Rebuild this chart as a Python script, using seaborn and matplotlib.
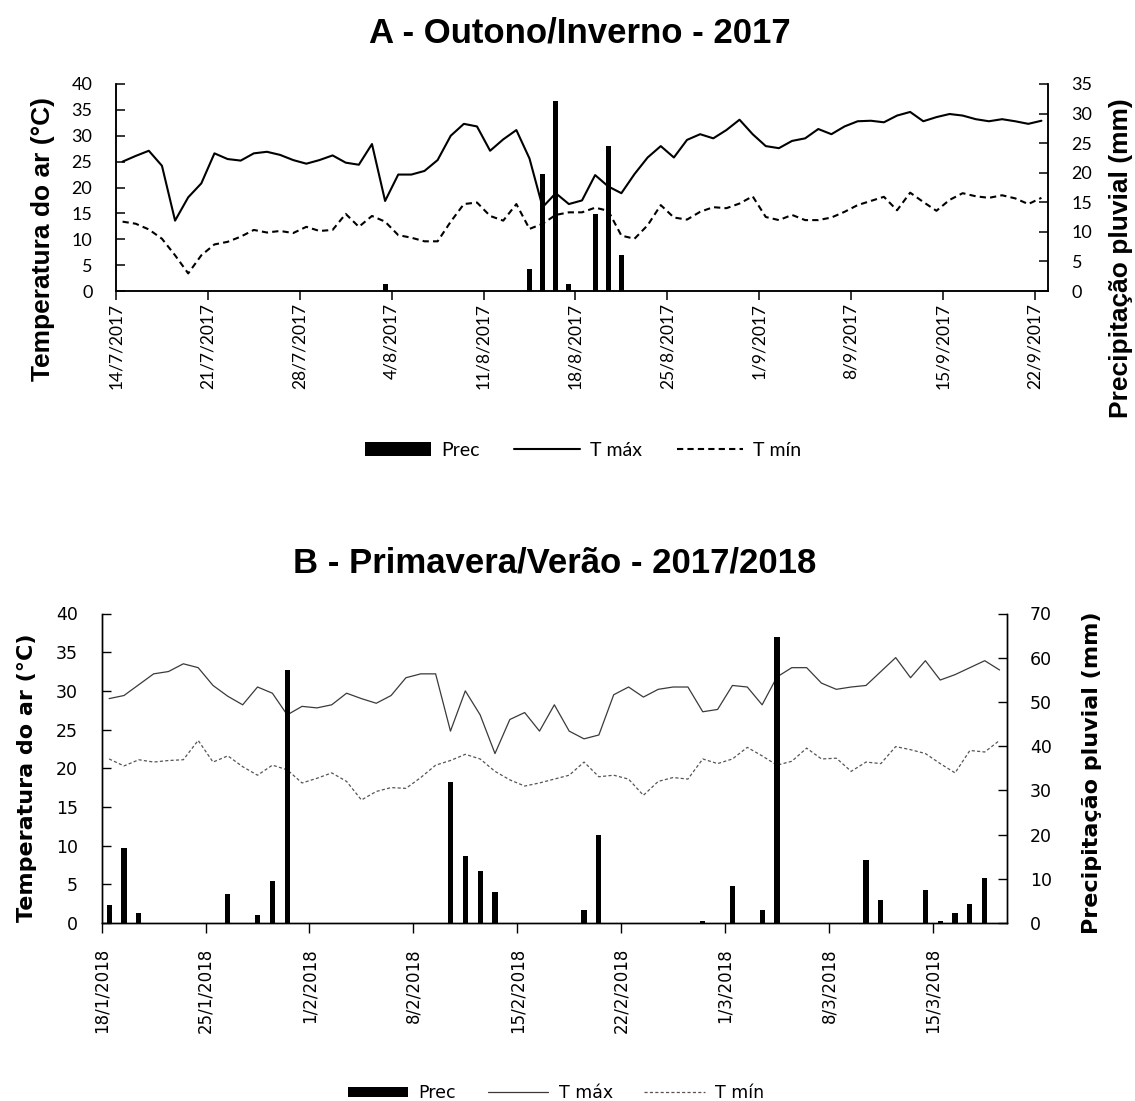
import numpy as np
import pandas as pd
import matplotlib
matplotlib.use('Agg')
import matplotlib.pyplot as plt
import seaborn as sns
from matplotlib.patches import Patch
from matplotlib.lines import Line2D

# --- Panel A: Outono/Inverno 2017, one value per day from 14/7/2017 ---
start_a = '2017-07-14'
tmax_a = [25.0, 26.1, 27.1, 24.2, 13.6, 18.1, 20.8, 26.6, 25.5, 25.2,
          26.6, 26.9, 26.3, 25.3, 24.6, 25.3, 26.2, 24.8, 24.4, 28.4,
          17.4, 22.5, 22.5, 23.2, 25.3, 30.0, 32.3, 31.8, 27.1, 29.3,
          31.1, 25.6, 16.2, 18.9, 16.8, 17.5, 22.4, 20.2, 18.9, 22.6,
          25.8, 28.0, 25.8, 29.2, 30.3, 29.5, 31.1, 33.1, 30.3, 28.0,
          27.6, 29.0, 29.5, 31.3, 30.3, 31.8, 32.8, 32.9, 32.6, 33.9,
          34.6, 32.8, 33.6, 34.2, 33.9, 33.2, 32.8, 33.2, 32.8, 32.3,
          32.9]
tmin_a = [13.4, 13.0, 11.9, 10.1, 6.9, 3.4, 6.9, 9.0, 9.5, 10.5,
          11.8, 11.3, 11.6, 11.2, 12.4, 11.6, 11.8, 14.9, 12.4, 14.5,
          13.4, 10.8, 10.3, 9.6, 9.6, 13.4, 16.8, 17.1, 14.5, 13.6,
          16.8, 12.0, 13.0, 14.7, 15.2, 15.2, 16.1, 15.5, 10.7, 10.1,
          12.7, 16.6, 14.2, 13.8, 15.3, 16.2, 16.0, 16.9, 18.3, 14.3,
          13.7, 14.7, 13.7, 13.7, 14.2, 15.3, 16.6, 17.4, 18.2, 15.6,
          19.0, 17.2, 15.5, 17.6, 18.9, 18.3, 18.0, 18.5, 17.9, 16.8,
          18.0]
prec_a = [0, 0, 0, 0, 0, 0, 0, 0, 0, 0,
          0, 0, 0, 0, 0, 0, 0, 0, 0, 0,
          1.1, 0, 0, 0, 0, 0, 0, 0, 0, 0,
          0, 3.7, 19.7, 32.1, 1.1, 0, 13.1, 24.6, 6.1, 0,
          0, 0, 0, 0, 0, 0, 0, 0, 0, 0,
          0, 0, 0, 0, 0, 0, 0, 0, 0, 0,
          0, 0, 0, 0, 0, 0, 0, 0, 0, 0,
          0]
ticks_a = ['14/7/2017', '21/7/2017', '28/7/2017', '4/8/2017', '11/8/2017',
           '18/8/2017', '25/8/2017', '1/9/2017', '8/9/2017', '15/9/2017',
           '22/9/2017']

# --- Panel B: Primavera/Verao 2017/2018, one value per day from 18/1/2018 ---
start_b = '2018-01-18'
tmax_b = [29.0, 29.4, 30.8, 32.2, 32.5, 33.5, 33.0, 30.7, 29.3, 28.2,
          30.5, 29.7, 26.9, 28.0, 27.8, 28.2, 29.7, 29.0, 28.4, 29.4,
          31.7, 32.2, 32.2, 24.8, 30.0, 26.9, 21.9, 26.3, 27.2, 24.8,
          28.2, 24.8, 23.8, 24.3, 29.5, 30.5, 29.2, 30.2, 30.5, 30.5,
          27.3, 27.6, 30.7, 30.5, 28.2, 31.8, 33.0, 33.0, 31.0, 30.2,
          30.5, 30.7, 32.5, 34.3, 31.7, 33.9, 31.4, 32.1, 33.0, 33.9,
          32.7]
tmin_b = [21.2, 20.3, 21.1, 20.8, 21.0, 21.1, 23.6, 20.8, 21.6, 20.2,
          19.1, 20.4, 19.8, 18.1, 18.7, 19.4, 18.3, 15.9, 17.0, 17.5,
          17.4, 18.8, 20.4, 21.0, 21.8, 21.2, 19.6, 18.5, 17.7, 18.1,
          18.6, 19.1, 20.8, 18.9, 19.1, 18.6, 16.5, 18.3, 18.8, 18.6,
          21.2, 20.6, 21.2, 22.7, 21.6, 20.4, 20.9, 22.6, 21.2, 21.3,
          19.6, 20.8, 20.6, 22.8, 22.4, 21.9, 20.6, 19.4, 22.3, 22.1,
          23.6]
prec_b = [4.0, 16.9, 2.3, 0, 0, 0, 0, 0, 6.5, 0,
          1.9, 9.5, 57.3, 0, 0, 0, 0, 0, 0, 0,
          0, 0, 0, 32.0, 15.1, 11.7, 7.0, 0, 0, 0,
          0, 0, 3.0, 19.9, 0, 0, 0, 0, 0, 0,
          0.5, 0, 8.3, 0, 3.0, 64.6, 0, 0, 0, 0,
          0, 14.2, 5.1, 0, 0, 7.4, 0.5, 2.3, 4.4, 10.1,
          0]
ticks_b = ['18/1/2018', '25/1/2018', '1/2/2018', '8/2/2018', '15/2/2018',
           '22/2/2018', '1/3/2018', '8/3/2018', '15/3/2018']


def make_frame(start, tmax, tmin, prec):
    dates = pd.date_range(start, periods=len(tmax), freq='D')
    df = pd.DataFrame({'date': dates, 'tmax': tmax, 'tmin': tmin, 'prec': prec})
    # excel puts each day in the middle of its slot
    df['pos'] = (df['date'] - dates[0]).dt.days + 0.5
    return df


df_a = make_frame(start_a, tmax_a, tmin_a, prec_a)
df_b = make_frame(start_b, tmax_b, tmin_b, prec_b)

sns.set_theme(style='white')
plt.rcParams['font.family'] = ['Lato', 'DejaVu Sans']
plt.rcParams['text.color'] = 'black'

fig = plt.figure(figsize=(11.35, 11.01), dpi=100)


def draw_panel(rect, df, ticks, rmax, rstep, style):
    ax = fig.add_axes(rect)
    ax2 = ax.twinx()
    n = len(df)

    sns.barplot(data=df, x='pos', y='prec', native_scale=True, color='black',
                saturation=1, width=style['bar_w'], linewidth=0, errorbar=None, ax=ax2)
    sns.lineplot(data=df, x='pos', y='tmax', color=style['lc'], lw=style['lw'], ax=ax)
    sns.lineplot(data=df, x='pos', y='tmin', color=style['dc'], lw=style['lw'],
                 linestyle=style['dash'], ax=ax)

    ax.set_ylim(0, 40)
    ax2.set_ylim(0, rmax)
    ax.set_xlabel('')
    ax.set_ylabel('')
    ax2.set_xlabel('')
    ax2.set_ylabel('')

    ax.set_xticks(np.arange(0, 7 * len(ticks), 7))
    ax.set_xticklabels(ticks, rotation=90, fontfamily=style['tfont'],
                       fontsize=style['xsize'], color='black')
    ax.set_yticks(np.arange(0, 41, 5))
    ax.set_yticklabels([str(v) for v in range(0, 41, 5)], fontfamily=style['tfont'],
                       fontsize=style['ysize'], color='black')
    ax2.set_yticks(np.arange(0, rmax + 1, rstep))
    ax2.set_yticklabels([str(v) for v in range(0, rmax + 1, rstep)],
                        fontfamily=style['tfont'], fontsize=style['ysize'], color='black')

    ax.tick_params(axis='x', direction='out', length=style['xlen'], width=style['sw'],
                   pad=style['xpad'], bottom=True, colors='black')
    ax.tick_params(axis='y', direction='in', length=style['ylen'], width=style['sw'],
                   pad=style['lpad'], left=True, colors='black')
    ax2.tick_params(axis='y', direction='in', length=style['ylen'], width=style['sw'],
                    pad=style['rpad'], right=True, colors='black')

    for a in (ax, ax2):
        a.spines['top'].set_visible(False)
        for s in ('left', 'right', 'bottom'):
            a.spines[s].set_linewidth(style['sw'])
            a.spines[s].set_color('black')
    ax.set_xlim(0, n)
    return ax, ax2


style_a = dict(bar_w=0.38, lc='black', dc='black', lw=1.5, dash=(0, (3, 2)),
               tfont=['Lato', 'DejaVu Sans'], xsize=12.5, ysize=13,
               xlen=6.5, ylen=6.5, sw=1.1, xpad=2, lpad=17, rpad=17)
style_b = dict(bar_w=0.35, lc='#3a3a3a', dc='#555555', lw=0.9, dash=(0, (2.5, 1.8)),
               tfont=['DejaVu Sans'], xsize=12, ysize=12.5,
               xlen=7, ylen=6.5, sw=1.0, xpad=11, lpad=17, rpad=16.5)

ax_a, ax_a2 = draw_panel([116 / 1135, 1 - 291 / 1101, 932 / 1135, 207 / 1101],
                         df_a, ticks_a, 35, 5, style_a)
ax_b, ax_b2 = draw_panel([101.7 / 1135, 1 - 923 / 1101, 905.3 / 1135, 309.5 / 1101],
                         df_b, ticks_b, 70, 10, style_b)

# titles
fig.text(0.511, 1 - 33 / 1101, 'A - Outono/Inverno - 2017', ha='center', va='center',
         fontsize=25, fontweight='bold', family=['Liberation Sans', 'DejaVu Sans'])
fig.text(0.489, 1 - 563 / 1101, 'B - Primavera/Verão - 2017/2018', ha='center', va='center',
         fontsize=25, fontweight='bold', family=['Liberation Sans', 'DejaVu Sans'])

# axis titles
fig.text(43 / 1135, 1 - 239 / 1101, 'Temperatura do ar (°C)', rotation=90, ha='center',
         va='center', fontsize=19, fontweight='bold', family=['Liberation Sans', 'DejaVu Sans'])
fig.text(1121 / 1135, 1 - 258 / 1101, 'Precipitação pluvial (mm)', rotation=90, ha='center',
         va='center', fontsize=19, fontweight='bold', family=['Liberation Sans', 'DejaVu Sans'])
fig.text(27 / 1135, 1 - 778 / 1101, 'Temperatura do ar (°C)', rotation=90, ha='center',
         va='center', fontsize=16, fontweight='bold', family=['DejaVu Sans'])
fig.text(1092 / 1135, 1 - 773 / 1101, 'Precipitação pluvial (mm)', rotation=90, ha='center',
         va='center', fontsize=16, fontweight='bold', family=['DejaVu Sans'])

# legends
handles_a = [Patch(facecolor='black', edgecolor='none'),
             Line2D([], [], color='black', lw=1.5),
             Line2D([], [], color='black', lw=1.5, linestyle=(0, (3, 2)))]
fig.legend(handles_a, ['Prec', 'T máx', 'T mín'], loc='center', ncol=3,
           bbox_to_anchor=(583 / 1135, 1 - 450 / 1101), frameon=False,
           prop={'family': ['Lato', 'DejaVu Sans'], 'size': 14},
           handlelength=3.4, handleheight=0.72, handletextpad=0.5,
           columnspacing=1.8, borderpad=0)

handles_b = [Patch(facecolor='black', edgecolor='none'),
             Line2D([], [], color='#3a3a3a', lw=0.9),
             Line2D([], [], color='#555555', lw=0.9, linestyle=(0, (2.5, 1.8)))]
fig.legend(handles_b, ['Prec', 'T máx', 'T mín'], loc='center', ncol=3,
           bbox_to_anchor=(556 / 1135, 1 - 1093 / 1101), frameon=False,
           prop={'family': ['DejaVu Sans'], 'size': 12.5},
           handlelength=3.5, handleheight=0.57, handletextpad=0.6,
           columnspacing=1.8, borderpad=0)

fig.savefig('out.png', dpi=100)
